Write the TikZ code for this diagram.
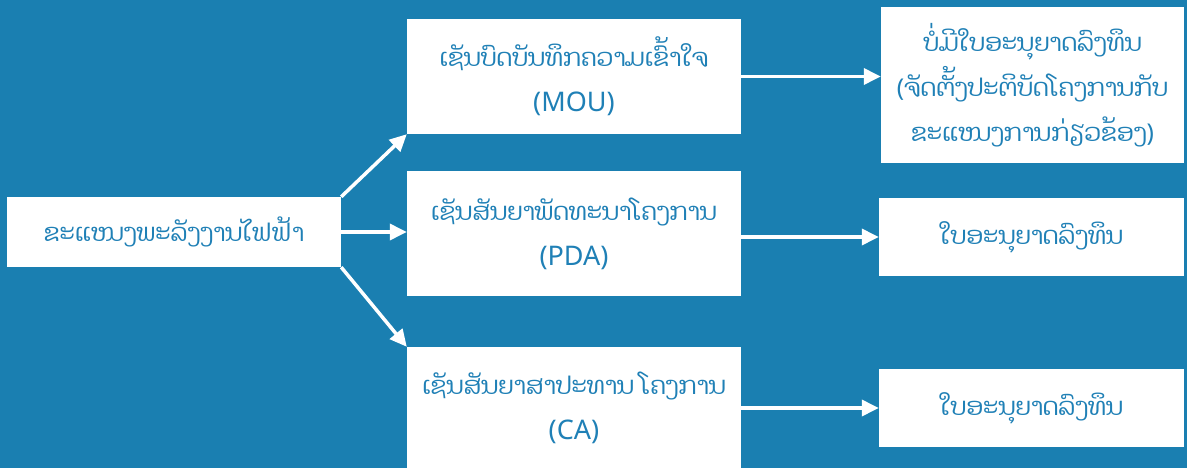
\documentclass[tikz,border=0pt]{standalone}
\usepackage{fontspec}
\setmainfont{Noto Sans}
\newfontfamily\laofont[Script=Lao]{Dhyana}
\usetikzlibrary{arrows.meta}
\definecolor{bgblue}{HTML}{1A7FB1}
\definecolor{txtblue}{HTML}{1F80B6}
\newcommand{\abbr}[1]{{\fontsize{27}{45}\selectfont\rmfamily #1}}
\tikzset{
  box/.style={draw=none, fill=white, text=txtblue, align=center, inner sep=0pt,
    font=\fontsize{24.5}{45}\selectfont},
  flow/.style={white, line width=3.5pt, -{Triangle[length=17pt,width=16pt]}}
}
\begin{document}
\begin{tikzpicture}[x=1pt,y=-1pt]
\useasboundingbox (0,0) rectangle (1187,468);
\fill[bgblue] (0,0) rectangle (1187,468);
% left column
\node[box, minimum width=334pt, minimum height=70pt] (sector) at (174,232)
  {\laofont ຂະແໜງພະລັງງານໄຟຟ້າ};
% middle column
\node[box, minimum width=334pt, minimum height=115pt] (mou) at (574,76.5)
  {\laofont ເຊັນບົດບັນທຶກຄວາມເຂົ້າໃຈ\\\abbr{(MOU)}};
\node[box, minimum width=334pt, minimum height=125pt] (pda) at (574,233.5)
  {\laofont ເຊັນສັນຍາພັດທະນາໂຄງການ\\\abbr{(PDA)}};
\node[box, minimum width=334pt, minimum height=121pt] (ca) at (574,407.5)
  {\laofont ເຊັນສັນຍາສາປະທານ ໂຄງການ\\\abbr{(CA)}};
% right column
\node[box, minimum width=303pt, minimum height=156pt] (nolic) at (1032.5,85)
  {\laofont ບໍ່ມີໃບອະນຸຍາດລົງທຶນ\\{\rmfamily(}\laofont ຈັດຕັ້ງປະຕິບັດໂຄງການກັບ\\\laofont ຂະແໜງການກ່ຽວຂ້ອງ{\rmfamily)}};
\node[box, minimum width=305pt, minimum height=78pt] (lic1) at (1031.5,237)
  {\laofont ໃບອະນຸຍາດລົງທຶນ};
\node[box, minimum width=305pt, minimum height=78pt] (lic2) at (1031.5,408)
  {\laofont ໃບອະນຸຍາດລົງທຶນ};

\draw[flow] (sector.north east) -- (mou.south west);
\draw[flow] (sector.east) -- (sector.east -| pda.west);
\draw[flow] (sector.south east) -- (ca.north west);
\draw[flow] (mou.east) -- (mou.east -| nolic.west);
\draw[flow] (lic1.west -| pda.east) -- (lic1.west);
\draw[flow] (lic2.west -| ca.east) -- (lic2.west);
\end{tikzpicture}
\end{document}
